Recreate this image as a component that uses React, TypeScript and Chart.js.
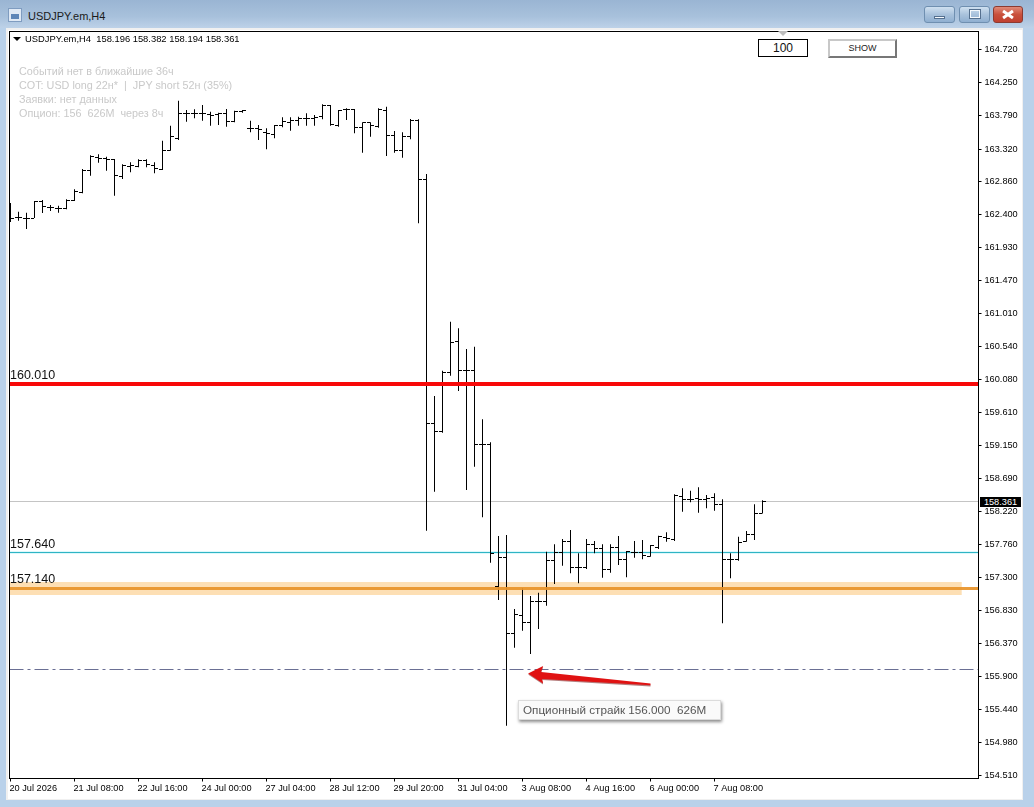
import React, { useEffect, useRef } from "react";
import { Chart, registerables } from "chart.js";

Chart.register(...registerables);

const highs = [162.561,162.438,162.424,162.589,162.603,162.533,162.523,162.613,162.754,163.039,163.232,163.246,163.212,163.180,163.105,163.133,163.175,163.175,163.133,163.437,163.648,164.000,163.869,163.879,163.939,163.845,163.831,163.883,163.859,163.869,163.718,163.658,163.611,163.658,163.766,163.766,163.775,163.822,163.799,163.949,163.939,163.869,163.893,163.883,163.696,163.696,163.893,163.915,163.573,163.555,163.742,163.738,162.969,159.846,160.202,160.891,160.798,160.507,160.540,159.519,159.195,157.877,157.891,156.850,157.142,157.033,157.080,157.656,157.760,157.835,157.962,157.634,157.835,157.807,157.760,157.760,157.877,157.666,157.807,157.821,157.751,157.881,157.929,158.464,158.548,158.514,158.562,158.454,158.478,158.393,157.634,157.867,157.947,158.323,158.382];
const lows = [162.294,162.312,162.195,162.350,162.420,162.448,162.424,162.472,162.589,162.697,162.945,163.128,163.015,162.663,162.898,162.993,163.063,163.063,162.979,163.025,163.296,163.447,163.704,163.752,163.718,163.648,163.658,163.634,163.696,163.831,163.555,163.447,163.316,163.471,163.626,163.578,163.648,163.648,163.648,163.738,163.648,163.634,163.728,163.541,163.268,163.493,163.620,163.222,163.268,163.198,163.457,162.275,157.952,158.500,159.330,160.132,159.917,158.524,158.852,158.140,157.502,156.977,155.209,156.306,156.545,156.217,156.569,156.897,157.202,157.460,157.353,157.212,157.413,157.634,157.291,157.361,157.469,157.296,157.572,157.549,157.586,157.694,157.797,157.807,158.219,158.351,158.205,158.267,158.233,156.649,157.282,157.530,157.797,157.821,158.194];
const opens = [162.462,162.354,162.350,162.350,162.579,162.500,162.481,162.481,162.593,162.711,163.025,163.204,163.189,163.166,162.931,163.081,163.081,163.152,163.095,163.035,163.306,163.471,163.813,163.822,163.822,163.799,163.799,163.813,163.704,163.845,163.602,163.602,163.550,163.531,163.644,163.696,163.728,163.752,163.752,163.775,163.939,163.648,163.869,163.869,163.626,163.690,163.634,163.855,163.517,163.306,163.493,163.728,162.894,159.462,159.344,160.180,160.610,160.202,160.202,159.167,159.167,157.164,157.578,156.509,156.766,156.663,156.953,156.953,157.540,157.648,157.807,157.437,157.437,157.760,157.704,157.409,157.713,157.549,157.648,157.648,157.596,157.718,157.853,157.831,158.440,158.393,158.407,158.393,158.416,158.327,157.549,157.549,157.807,157.905,158.196];
const closes = [162.350,162.354,162.350,162.579,162.509,162.495,162.486,162.603,162.720,163.015,163.212,163.189,163.166,162.941,163.085,163.085,163.152,163.105,163.049,163.296,163.493,163.813,163.822,163.822,163.813,163.789,163.813,163.704,163.845,163.859,163.602,163.588,163.541,163.644,163.704,163.728,163.752,163.752,163.766,163.929,163.658,163.859,163.869,163.626,163.690,163.644,163.869,163.517,163.306,163.493,163.728,162.894,159.462,159.344,160.180,160.602,160.202,160.202,159.167,159.167,157.638,157.578,156.509,156.776,156.663,156.963,156.953,157.540,157.648,157.807,157.437,157.437,157.760,157.704,157.409,157.713,157.549,157.656,157.648,157.610,157.737,157.867,157.845,158.454,158.393,158.393,158.393,158.407,158.327,157.549,157.549,157.789,157.905,158.196,158.361];

const xTickIndices = [0,8,16,24,32,40,48,56,64,72,80,88];
const xTickLabels = ["20 Jul 2026","21 Jul 08:00","22 Jul 16:00","24 Jul 00:00","27 Jul 04:00","28 Jul 12:00","29 Jul 20:00","31 Jul 04:00","3 Aug 08:00","4 Aug 16:00","6 Aug 00:00","7 Aug 08:00"];
const yTicks = [164.72,164.25,163.79,163.32,162.86,162.40,161.93,161.47,161.01,160.54,160.08,159.61,159.15,158.69,158.22,157.76,157.30,156.83,156.37,155.90,155.44,154.98,154.51];

const levelRed = 160.01;
const levelCyan = 157.64;
const levelOrange = 157.14;
const levelPrice = 158.361;
const levelStrike = 156.0;
const infoLines = ["Событий нет в ближайшие 36ч","COT: USD long 22н*  |  JPY short 52н (35%)","Заявки: нет данных","Опцион: 156  626M  через 8ч"];
const FONT = '"Liberation Sans", Arial, sans-serif';
const X_MIN = -0.125, X_MAX = 121, Y_MIN = 154.467, Y_MAX = 164.973;
const BAND_END = 118.9;
const arrowTip = { x: 64.7, y: 155.945 };
const arrowTail = { x: 80.0, y: 155.796 };

function tickImage(side: "open" | "close") {
  const c = document.createElement("canvas");
  c.width = 7; c.height = 1;
  const g = c.getContext("2d")!;
  g.fillStyle = "#000";
  g.fillRect(side === "open" ? 0 : 4, 0, 3, 1);
  return c;
}

const flat = (y: number, to = X_MAX) => [{ x: X_MIN, y }, { x: to, y }];

const pixelSnap = {
  id: "pixelSnap",
  afterDatasetsUpdate(chart: any) {
    chart.data.datasets.forEach((ds: any, i: number) => {
      const meta = chart.getDatasetMeta(i);
      if (ds.type === "bar") {
        meta.data.forEach((el: any) => { el.x = Math.floor(el.x) + 0.5; });
      } else if (ds.showLine === false) {
        meta.data.forEach((el: any) => { el.x = Math.floor(el.x) + 0.5; el.y = Math.floor(el.y) + 0.5; });
      } else {
        const odd = (ds.borderWidth || 1) % 2 === 1;
        meta.data.forEach((el: any) => { el.y = odd ? Math.floor(el.y) + 0.5 : Math.round(el.y); });
      }
    });
  },
};

const frameAndArrow = {
  id: "frameAndArrow",
  afterDatasetsDraw(chart: any) {
    const { ctx, scales } = chart;
    const tx = scales.x.getPixelForValue(arrowTip.x), ty = scales.y.getPixelForValue(arrowTip.y);
    const ex = scales.x.getPixelForValue(arrowTail.x), ey = scales.y.getPixelForValue(arrowTail.y);
    const path = () => {
      ctx.beginPath();
      ctx.moveTo(tx, ty);
      ctx.lineTo(tx + 15, ty - 7.5);
      ctx.lineTo(tx + 13, ty - 1.5);
      ctx.lineTo(ex, ey - 0.5);
      ctx.lineTo(ex, ey + 1.2);
      ctx.lineTo(tx + 14, ty + 5.5);
      ctx.lineTo(tx + 15, ty + 10);
      ctx.closePath();
    };
    ctx.save();
    ctx.translate(0, 1.2);
    ctx.fillStyle = "rgba(120,20,20,0.55)";
    path(); ctx.fill();
    ctx.restore();
    ctx.save();
    ctx.fillStyle = "#e01212";
    path(); ctx.fill();
    ctx.restore();
  },
  afterDraw(chart: any) {
    const { ctx, chartArea: a } = chart;
    ctx.save();
    ctx.strokeStyle = "#000";
    ctx.lineWidth = 1;
    ctx.strokeRect(a.left, a.top, a.right - a.left, a.bottom - a.top);
    ctx.restore();
  },
};

const abs = (l: number, t: number, w?: number, h?: number): React.CSSProperties => ({ position: "absolute", left: l, top: t, width: w, height: h });
const txt = (l: number, cy: number, size: number, color: string): React.CSSProperties => ({ position: "absolute", left: l, top: cy - 10, height: 20, lineHeight: "20px", fontSize: size, color, fontFamily: FONT, whiteSpace: "pre" });

function WinBtn({ l, w, close, children }: { l: number; w: number; close?: boolean; children?: React.ReactNode }) {
  return (
    <div style={{ ...abs(l, 6, w, 17), boxSizing: "border-box", border: "1px solid " + (close ? "#8c3a30" : "#6f8fb0"), borderRadius: 3,
      background: close ? "linear-gradient(#e08a78,#c9503c 50%,#c0402f)" : "linear-gradient(#cfe0f0,#a9c2dc 50%,#8fafd0)" }}>{children}</div>
  );
}

export default function App() {
  const ref = useRef<HTMLCanvasElement>(null);
  useEffect(() => {
    const openImg = tickImage("open"), closeImg = tickImage("close");
    const xs = closes.map((_, i) => i);
    const chart = new Chart(ref.current!, {
      data: {
        datasets: [
          { type: "line", label: "band", data: flat(levelOrange, BAND_END), borderColor: "#fddfb4", borderWidth: 13, pointRadius: 0, order: 20 },
          { type: "line", label: "cyan glow", data: flat(levelCyan), borderColor: "#dcf8fb", borderWidth: 3, pointRadius: 0, order: 19 },
          { type: "line", label: "price", data: flat(levelPrice), borderColor: "#c4c4c4", borderWidth: 1, pointRadius: 0, order: 18 },
          { type: "line", label: "cyan", data: flat(levelCyan), borderColor: "#2fb4c4", borderWidth: 1, pointRadius: 0, order: 17 },
          { type: "line", label: "strike", data: flat(levelStrike), borderColor: "#6a6f94", borderWidth: 1, borderDash: [14, 4, 3, 4], pointRadius: 0, order: 16 },
          { type: "bar", label: "range", data: xs.map((i) => ({ x: i, y: [lows[i], highs[i]] })), backgroundColor: "#000", barThickness: 1, inflateAmount: 0, grouped: false, order: 5 } as any,
          { type: "line", label: "open", data: xs.map((i) => ({ x: i, y: opens[i] })), showLine: false, pointStyle: openImg, pointRadius: 3, order: 4 } as any,
          { type: "line", label: "close", data: xs.map((i) => ({ x: i, y: closes[i] })), showLine: false, pointStyle: closeImg, pointRadius: 3, order: 4 } as any,
          { type: "line", label: "orange", data: flat(levelOrange), borderColor: "rgba(232,146,40,0.92)", borderWidth: 3, pointRadius: 0, order: 2 },
          { type: "line", label: "red", data: flat(levelRed), borderColor: "#f80808", borderWidth: 4, pointRadius: 0, order: 1 },
        ],
      },
      plugins: [pixelSnap, frameAndArrow],
      options: {
        animation: false,
        responsive: false,
        devicePixelRatio: 1,
        events: [],
        layout: { padding: { left: 9.5, top: 31.5, right: 0, bottom: 0 } },
        plugins: { legend: { display: false }, tooltip: { enabled: false }, title: { display: false } },
        scales: {
          x: {
            type: "linear", min: X_MIN, max: X_MAX, position: "bottom", offset: false,
            afterBuildTicks: (s: any) => { s.ticks = xTickIndices.map((value) => ({ value })); },
            afterFit: (s: any) => { s.height = 28.5; s.paddingLeft = 0; s.paddingRight = 0; },
            grid: { display: true, offset: false, drawOnChartArea: false, drawTicks: true, tickLength: 3, tickColor: "#000" },
            border: { color: "#000" },
            ticks: {
              autoSkip: false, maxRotation: 0, minRotation: 0, align: "start", padding: 1, labelOffset: -1, color: "#000",
              font: { family: FONT, size: 9.2 },
              callback: (v: any) => { const i = xTickIndices.indexOf(Number(v)); return i >= 0 ? xTickLabels[i] : ""; },
            },
          },
          y: {
            type: "linear", min: Y_MIN, max: Y_MAX, position: "right",
            afterBuildTicks: (s: any) => { s.ticks = yTicks.map((value) => ({ value })); },
            afterFit: (s: any) => { s.width = 55.5; s.paddingTop = 0; s.paddingBottom = 0; },
            grid: { display: true, drawOnChartArea: false, drawTicks: true, tickLength: 3, tickColor: "#000" },
            border: { color: "#000" },
            ticks: { autoSkip: false, padding: 3, color: "#000", font: { family: FONT, size: 9.2 }, callback: (v: any) => Number(v).toFixed(3) },
          },
        },
      } as any,
    });
    return () => chart.destroy();
  }, []);

  return (
    <div style={{ ...abs(0, 0, 1034, 807), overflow: "hidden", background: "#b9d1ea", position: "fixed" }}>
      <div style={{ ...abs(0, 0, 1034, 28), background: "linear-gradient(#9ab5d3,#a8c1dc 60%,#bdd2e8)" }} />
      <div style={{ ...abs(8, 8, 14, 14), background: "#dfe9f5", border: "1px solid #7f9cc0", boxSizing: "border-box" }}>
        <div style={{ ...abs(2, 5, 8, 5), background: "#5d86b8" }} />
      </div>
      <div style={txt(28, 16, 11, "#1a1a1a")}>USDJPY.em,H4</div>
      <WinBtn l={924} w={31}><div style={{ ...abs(9, 9, 11, 3), background: "#f4f8fc", border: "1px solid #55708f", boxSizing: "border-box" }} /></WinBtn>
      <WinBtn l={959} w={31}><div style={{ ...abs(10, 3, 10, 8), border: "1px solid #f4f8fc", outline: "1px solid #55708f", boxSizing: "border-box" }} /></WinBtn>
      <WinBtn l={993} w={30} close>
        <div style={{ ...abs(8, 6, 12, 3), background: "#fff", transform: "rotate(35deg)" }} />
        <div style={{ ...abs(8, 6, 12, 3), background: "#fff", transform: "rotate(-35deg)" }} />
      </WinBtn>
      <div style={{ ...abs(6, 28, 1017, 772), background: "#f0f0f0" }} />
      <div style={{ ...abs(8, 30, 1014, 769), background: "#fff" }} />
      <canvas ref={ref} width={1034} height={807} style={{ ...abs(0, 0, 1034, 807), display: "block" }} />

      <div style={{ ...abs(13, 37), width: 0, height: 0, borderLeft: "4px solid transparent", borderRight: "4px solid transparent", borderTop: "4px solid #000" }} />
      <div style={txt(25, 39, 9.4, "#000")}>USDJPY.em,H4  158.196 158.382 158.194 158.361</div>
      {infoLines.map((t, i) => (
        <div key={i} style={txt(19, 71 + 14 * i, 10.8, "#c9c9c9")}>{t}</div>
      ))}
      <div style={txt(10, 375, 12.5, "#111")}>160.010</div>
      <div style={txt(10, 544, 12.5, "#111")}>157.640</div>
      <div style={txt(10, 579, 12.5, "#111")}>157.140</div>

      <div style={{ ...abs(778, 31), width: 0, height: 0, borderLeft: "5px solid transparent", borderRight: "5px solid transparent", borderTop: "5px solid #bdbdbd" }} />
      <div style={{ ...abs(758, 39, 50, 18), boxSizing: "border-box", border: "1px solid #000", background: "#fff", textAlign: "center", lineHeight: "16px", fontSize: 12, fontFamily: FONT, color: "#111" }}>100</div>
      <div style={{ ...abs(828, 39, 69, 19), boxSizing: "border-box", borderTop: "2px solid #c8c8c8", borderLeft: "2px solid #c8c8c8", borderRight: "2px solid #777", borderBottom: "2px solid #777", background: "#fff", textAlign: "center", lineHeight: "15px", fontSize: 9, fontFamily: FONT, color: "#222" }}>SHOW</div>

      <div style={{ ...abs(980, 497, 41, 10), background: "#000", color: "#fff", textAlign: "center", lineHeight: "10px", fontSize: 9.2, fontFamily: FONT }}>158.361</div>

      <div style={{ ...abs(518, 700, 203, 20), boxSizing: "border-box", background: "#fafafa", border: "1px solid #dcdcdc", boxShadow: "1px 2px 3px rgba(0,0,0,0.45)", color: "#555", lineHeight: "18px", paddingLeft: 4, fontSize: 11.7, fontFamily: FONT, whiteSpace: "pre" }}>Опционный страйк 156.000  626M</div>
    </div>
  );
}
